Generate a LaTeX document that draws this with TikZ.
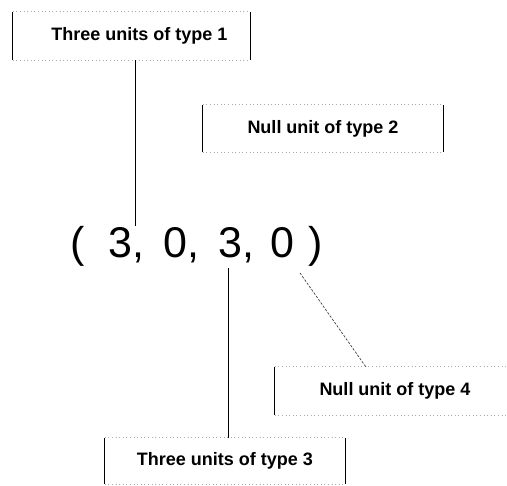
\documentclass[tikz,border=0pt]{standalone}
\usepackage{fontspec}
\setmainfont{Liberation Sans}
\begin{document}
\begin{tikzpicture}[x=1pt,y=-1pt,
  labelbox/.style={inner sep=0pt, minimum width=240pt, minimum height=47pt,
    font=\fontsize{18}{20}\selectfont\bfseries},
  sidebar/.style={black, line width=1.1pt},
  edgeline/.style={gray!65, line width=0.7pt, dash pattern=on 1pt off 2.6pt},
  conn/.style={black, line width=0.8pt},
  dashconn/.style={black!75, line width=0.7pt, dash pattern=on 2.5pt off 1.5pt}]
\useasboundingbox (0,0) rectangle (507,486);

% label boxes
\node[labelbox, minimum width=237pt, minimum height=48pt] (b1) at (131.5,36) {\hspace*{16pt}Three units of type 1};
\node[labelbox] (b2) at (323,128.5) {Null unit of type 2};
\node[labelbox, minimum height=48pt] (b4) at (395,391) {Null unit of type 4};
\node[labelbox, minimum height=46pt] (b3) at (225,461) {Three units of type 3};

\foreach \b in {b1,b2,b3} {
  \draw[sidebar] (\b.north west) -- (\b.south west);
  \draw[sidebar] (\b.north east) -- (\b.south east);
  \draw[edgeline] (\b.north west) -- (\b.north east);
  \draw[edgeline] (\b.south west) -- (\b.south east);
}
\draw[sidebar] (b4.north west) -- (b4.south west);
\draw[edgeline] (b4.north west) -- (b4.north east);
\draw[edgeline] (b4.south west) -- (b4.south east);

% tuple
\node[anchor=base west, inner sep=0pt, font=\fontsize{43}{46}\selectfont] (t) at (70.5,258)
  {(\hspace{23.5pt}3,\hspace{19pt}0,\hspace{19.2pt}3,\hspace{16.2pt}0\hspace{14.5pt})};

% connectors
\coordinate (c1) at (135,226);
\coordinate (c3) at (228,268);
\coordinate (c4) at (300,273);
\draw[conn] (b1.south -| c1) -- (c1);
\draw[conn] (c3) -- (c3 |- b3.north);
\draw[dashconn] (c4) -- ([xshift=91pt]b4.north west);
\end{tikzpicture}
\end{document}
